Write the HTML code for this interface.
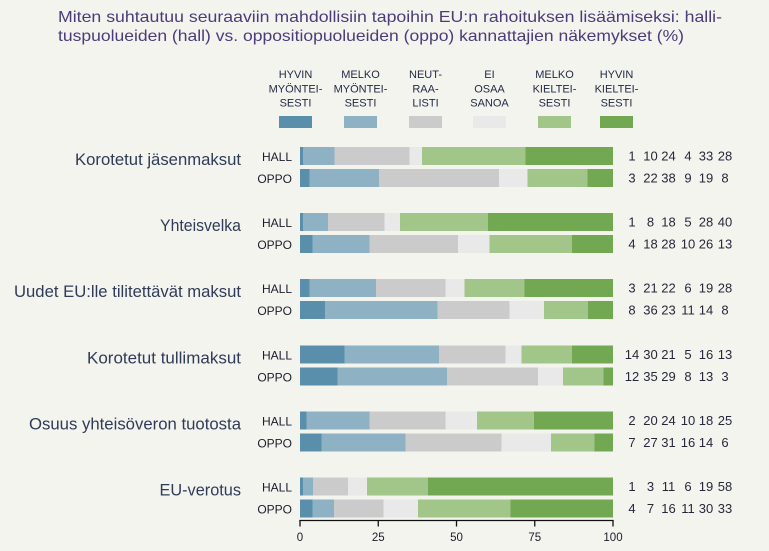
<!DOCTYPE html>
<html>
<head>
<meta charset="utf-8">
<style>
html,body{margin:0;padding:0;background:#f4f4ef;}
svg{display:block;}
text{font-family:"Liberation Sans",sans-serif;}
</style>
</head>
<body>
<svg width="769" height="551" viewBox="0 0 769 551" xmlns="http://www.w3.org/2000/svg">
<rect width="769" height="551" fill="#f4f4ef"/>

<!-- Title -->
<text x="58" y="22" font-size="16" fill="#4b3b7a" textLength="664" lengthAdjust="spacingAndGlyphs">Miten suhtautuu seuraaviin mahdollisiin tapoihin EU:n rahoituksen lisäämiseksi: halli-</text>
<text x="58" y="41" font-size="16" fill="#4b3b7a" textLength="626" lengthAdjust="spacingAndGlyphs">tuspuolueiden (hall) vs. oppositiopuolueiden (oppo) kannattajien näkemykset (%)</text>

<!-- Legend -->
<g font-size="11" fill="#222a44" text-anchor="middle">
  <text x="295.5" y="78">HYVIN</text><text x="295.5" y="92.5">MYÖNTEI-</text><text x="295.5" y="106.5">SESTI</text>
  <text x="360.5" y="78">MELKO</text><text x="360.5" y="92.5">MYÖNTEI-</text><text x="360.5" y="106.5">SESTI</text>
  <text x="425.5" y="78">NEUT-</text><text x="425.5" y="92.5">RAA-</text><text x="425.5" y="106.5">LISTI</text>
  <text x="489.5" y="78">EI</text><text x="489.5" y="92.5">OSAA</text><text x="489.5" y="106.5">SANOA</text>
  <text x="554.5" y="78">MELKO</text><text x="554.5" y="92.5">KIELTEI-</text><text x="554.5" y="106.5">SESTI</text>
  <text x="616.5" y="78">HYVIN</text><text x="616.5" y="92.5">KIELTEI-</text><text x="616.5" y="106.5">SESTI</text>
</g>
<rect x="279" y="116" width="33" height="12" fill="#5a8fac"/>
<rect x="344" y="116" width="33" height="12" fill="#8eb1c3"/>
<rect x="409" y="116" width="33" height="12" fill="#cbcbcb"/>
<rect x="473" y="116" width="33" height="12" fill="#e9e9e9"/>
<rect x="538" y="116" width="33" height="12" fill="#a2c589"/>
<rect x="600" y="116" width="33" height="12" fill="#73a852"/>

<!-- Category labels -->
<g font-size="16.5" fill="#2f3b58" text-anchor="end">
  <text x="241" y="165" textLength="166" lengthAdjust="spacingAndGlyphs">Korotetut jäsenmaksut</text>
  <text x="241" y="231.1" textLength="81" lengthAdjust="spacingAndGlyphs">Yhteisvelka</text>
  <text x="241" y="297.2" textLength="227" lengthAdjust="spacingAndGlyphs">Uudet EU:lle tilitettävät maksut</text>
  <text x="241" y="363.4" textLength="154" lengthAdjust="spacingAndGlyphs">Korotetut tullimaksut</text>
  <text x="241" y="429.5" textLength="212" lengthAdjust="spacingAndGlyphs">Osuus yhteisöveron tuotosta</text>
  <text x="241" y="495.6" textLength="81.5" lengthAdjust="spacingAndGlyphs">EU-verotus</text>
</g>

<!-- HALL / OPPO labels -->
<g font-size="12" fill="#1c1c2c" text-anchor="end">
  <text x="292" y="161">HALL</text><text x="292" y="183">OPPO</text>
  <text x="292" y="227.1">HALL</text><text x="292" y="249.1">OPPO</text>
  <text x="292" y="293.2">HALL</text><text x="292" y="315.2">OPPO</text>
  <text x="292" y="359.4">HALL</text><text x="292" y="381.4">OPPO</text>
  <text x="292" y="425.5">HALL</text><text x="292" y="447.5">OPPO</text>
  <text x="292" y="491.6">HALL</text><text x="292" y="513.6">OPPO</text>
</g>

<!-- Bars -->
<g shape-rendering="crispEdges">
<!-- Group 1 HALL y=147 -->
<rect x="300" y="147" width="3.13" height="18" fill="#5a8fac"/>
<rect x="303.13" y="147" width="31.3" height="18" fill="#8eb1c3"/>
<rect x="334.43" y="147" width="75.12" height="18" fill="#cbcbcb"/>
<rect x="409.55" y="147" width="12.52" height="18" fill="#e9e9e9"/>
<rect x="422.07" y="147" width="103.29" height="18" fill="#a2c589"/>
<rect x="525.36" y="147" width="87.64" height="18" fill="#73a852"/>
<!-- Group 1 OPPO y=169 -->
<rect x="300" y="169" width="9.48" height="18" fill="#5a8fac"/>
<rect x="309.48" y="169" width="69.56" height="18" fill="#8eb1c3"/>
<rect x="379.04" y="169" width="120.14" height="18" fill="#cbcbcb"/>
<rect x="499.18" y="169" width="28.46" height="18" fill="#e9e9e9"/>
<rect x="527.64" y="169" width="60.06" height="18" fill="#a2c589"/>
<rect x="587.7" y="169" width="25.3" height="18" fill="#73a852"/>

<!-- Group 2 HALL y=213.1 -->
<rect x="300" y="213.1" width="3.13" height="18" fill="#5a8fac"/>
<rect x="303.13" y="213.1" width="25.04" height="18" fill="#8eb1c3"/>
<rect x="328.17" y="213.1" width="56.34" height="18" fill="#cbcbcb"/>
<rect x="384.51" y="213.1" width="15.65" height="18" fill="#e9e9e9"/>
<rect x="400.16" y="213.1" width="87.64" height="18" fill="#a2c589"/>
<rect x="487.8" y="213.1" width="125.2" height="18" fill="#73a852"/>
<!-- Group 2 OPPO y=235.1 -->
<rect x="300" y="235.1" width="12.65" height="18" fill="#5a8fac"/>
<rect x="312.65" y="235.1" width="56.91" height="18" fill="#8eb1c3"/>
<rect x="369.56" y="235.1" width="88.52" height="18" fill="#cbcbcb"/>
<rect x="458.08" y="235.1" width="31.62" height="18" fill="#e9e9e9"/>
<rect x="489.7" y="235.1" width="82.2" height="18" fill="#a2c589"/>
<rect x="571.9" y="235.1" width="41.1" height="18" fill="#73a852"/>

<!-- Group 3 HALL y=279.2 -->
<rect x="300" y="279.2" width="9.48" height="18" fill="#5a8fac"/>
<rect x="309.48" y="279.2" width="66.4" height="18" fill="#8eb1c3"/>
<rect x="375.88" y="279.2" width="69.55" height="18" fill="#cbcbcb"/>
<rect x="445.43" y="279.2" width="18.97" height="18" fill="#e9e9e9"/>
<rect x="464.4" y="279.2" width="60.07" height="18" fill="#a2c589"/>
<rect x="524.47" y="279.2" width="88.53" height="18" fill="#73a852"/>
<!-- Group 3 OPPO y=301.2 -->
<rect x="300" y="301.2" width="25.04" height="18" fill="#5a8fac"/>
<rect x="325.04" y="301.2" width="112.68" height="18" fill="#8eb1c3"/>
<rect x="437.72" y="301.2" width="71.99" height="18" fill="#cbcbcb"/>
<rect x="509.71" y="301.2" width="34.43" height="18" fill="#e9e9e9"/>
<rect x="544.14" y="301.2" width="43.82" height="18" fill="#a2c589"/>
<rect x="587.96" y="301.2" width="25.04" height="18" fill="#73a852"/>

<!-- Group 4 HALL y=345.4 -->
<rect x="300" y="345.4" width="44.26" height="18" fill="#5a8fac"/>
<rect x="344.26" y="345.4" width="94.85" height="18" fill="#8eb1c3"/>
<rect x="439.11" y="345.4" width="66.4" height="18" fill="#cbcbcb"/>
<rect x="505.51" y="345.4" width="15.8" height="18" fill="#e9e9e9"/>
<rect x="521.31" y="345.4" width="50.59" height="18" fill="#a2c589"/>
<rect x="571.9" y="345.4" width="41.1" height="18" fill="#73a852"/>
<!-- Group 4 OPPO y=367.4 -->
<rect x="300" y="367.4" width="37.56" height="18" fill="#5a8fac"/>
<rect x="337.56" y="367.4" width="109.55" height="18" fill="#8eb1c3"/>
<rect x="447.11" y="367.4" width="90.77" height="18" fill="#cbcbcb"/>
<rect x="537.88" y="367.4" width="25.04" height="18" fill="#e9e9e9"/>
<rect x="562.92" y="367.4" width="40.69" height="18" fill="#a2c589"/>
<rect x="603.61" y="367.4" width="9.39" height="18" fill="#73a852"/>

<!-- Group 5 HALL y=411.5 -->
<rect x="300" y="411.5" width="6.32" height="18" fill="#5a8fac"/>
<rect x="306.32" y="411.5" width="63.24" height="18" fill="#8eb1c3"/>
<rect x="369.56" y="411.5" width="75.87" height="18" fill="#cbcbcb"/>
<rect x="445.43" y="411.5" width="31.62" height="18" fill="#e9e9e9"/>
<rect x="477.05" y="411.5" width="56.91" height="18" fill="#a2c589"/>
<rect x="533.96" y="411.5" width="79.04" height="18" fill="#73a852"/>
<!-- Group 5 OPPO y=433.5 -->
<rect x="300" y="433.5" width="21.69" height="18" fill="#5a8fac"/>
<rect x="321.69" y="433.5" width="83.68" height="18" fill="#8eb1c3"/>
<rect x="405.37" y="433.5" width="96.07" height="18" fill="#cbcbcb"/>
<rect x="501.44" y="433.5" width="49.58" height="18" fill="#e9e9e9"/>
<rect x="551.02" y="433.5" width="43.39" height="18" fill="#a2c589"/>
<rect x="594.41" y="433.5" width="18.59" height="18" fill="#73a852"/>

<!-- Group 6 HALL y=477.6 -->
<rect x="300" y="477.6" width="3.19" height="18" fill="#5a8fac"/>
<rect x="303.19" y="477.6" width="9.59" height="18" fill="#8eb1c3"/>
<rect x="312.78" y="477.6" width="35.13" height="18" fill="#cbcbcb"/>
<rect x="347.91" y="477.6" width="19.16" height="18" fill="#e9e9e9"/>
<rect x="367.07" y="477.6" width="60.69" height="18" fill="#a2c589"/>
<rect x="427.76" y="477.6" width="185.24" height="18" fill="#73a852"/>
<!-- Group 6 OPPO y=499.6 -->
<rect x="300" y="499.6" width="12.4" height="18" fill="#5a8fac"/>
<rect x="312.4" y="499.6" width="21.69" height="18" fill="#8eb1c3"/>
<rect x="334.09" y="499.6" width="49.58" height="18" fill="#cbcbcb"/>
<rect x="383.67" y="499.6" width="34.09" height="18" fill="#e9e9e9"/>
<rect x="417.76" y="499.6" width="92.97" height="18" fill="#a2c589"/>
<rect x="510.73" y="499.6" width="102.27" height="18" fill="#73a852"/>
</g>

<!-- Numbers -->
<g font-size="13" fill="#26283a" text-anchor="middle">
  <g transform="translate(0,160.5)">
    <text x="632">1</text><text x="650.5">10</text><text x="668.5">24</text><text x="688">4</text><text x="706">33</text><text x="725">28</text>
  </g>
  <g transform="translate(0,182.5)">
    <text x="632">3</text><text x="650.5">22</text><text x="668.5">38</text><text x="688">9</text><text x="706">19</text><text x="725">8</text>
  </g>
  <g transform="translate(0,226.6)">
    <text x="632">1</text><text x="650.5">8</text><text x="668.5">18</text><text x="688">5</text><text x="706">28</text><text x="725">40</text>
  </g>
  <g transform="translate(0,248.6)">
    <text x="632">4</text><text x="650.5">18</text><text x="668.5">28</text><text x="688">10</text><text x="706">26</text><text x="725">13</text>
  </g>
  <g transform="translate(0,292.7)">
    <text x="632">3</text><text x="650.5">21</text><text x="668.5">22</text><text x="688">6</text><text x="706">19</text><text x="725">28</text>
  </g>
  <g transform="translate(0,314.7)">
    <text x="632">8</text><text x="650.5">36</text><text x="668.5">23</text><text x="688">11</text><text x="706">14</text><text x="725">8</text>
  </g>
  <g transform="translate(0,358.9)">
    <text x="632">14</text><text x="650.5">30</text><text x="668.5">21</text><text x="688">5</text><text x="706">16</text><text x="725">13</text>
  </g>
  <g transform="translate(0,380.9)">
    <text x="632">12</text><text x="650.5">35</text><text x="668.5">29</text><text x="688">8</text><text x="706">13</text><text x="725">3</text>
  </g>
  <g transform="translate(0,425)">
    <text x="632">2</text><text x="650.5">20</text><text x="668.5">24</text><text x="688">10</text><text x="706">18</text><text x="725">25</text>
  </g>
  <g transform="translate(0,447)">
    <text x="632">7</text><text x="650.5">27</text><text x="668.5">31</text><text x="688">16</text><text x="706">14</text><text x="725">6</text>
  </g>
  <g transform="translate(0,491.1)">
    <text x="632">1</text><text x="650.5">3</text><text x="668.5">11</text><text x="688">6</text><text x="706">19</text><text x="725">58</text>
  </g>
  <g transform="translate(0,513.1)">
    <text x="632">4</text><text x="650.5">7</text><text x="668.5">16</text><text x="688">11</text><text x="706">30</text><text x="725">33</text>
  </g>
</g>

<!-- Axis -->
<g stroke="#111" stroke-width="1.3" fill="none">
  <line x1="299.4" y1="520.5" x2="613.6" y2="520.5"/>
  <line x1="300" y1="520" x2="300" y2="526.5"/>
  <line x1="378.25" y1="520" x2="378.25" y2="526.5"/>
  <line x1="456.5" y1="520" x2="456.5" y2="526.5"/>
  <line x1="534.75" y1="520" x2="534.75" y2="526.5"/>
  <line x1="613" y1="520" x2="613" y2="526.5"/>
</g>
<g font-size="11.5" fill="#1c1c2c" text-anchor="middle">
  <text x="300" y="541">0</text>
  <text x="378.25" y="541">25</text>
  <text x="456.5" y="541">50</text>
  <text x="534.75" y="541">75</text>
  <text x="613" y="541">100</text>
</g>
</svg>
</body>
</html>
